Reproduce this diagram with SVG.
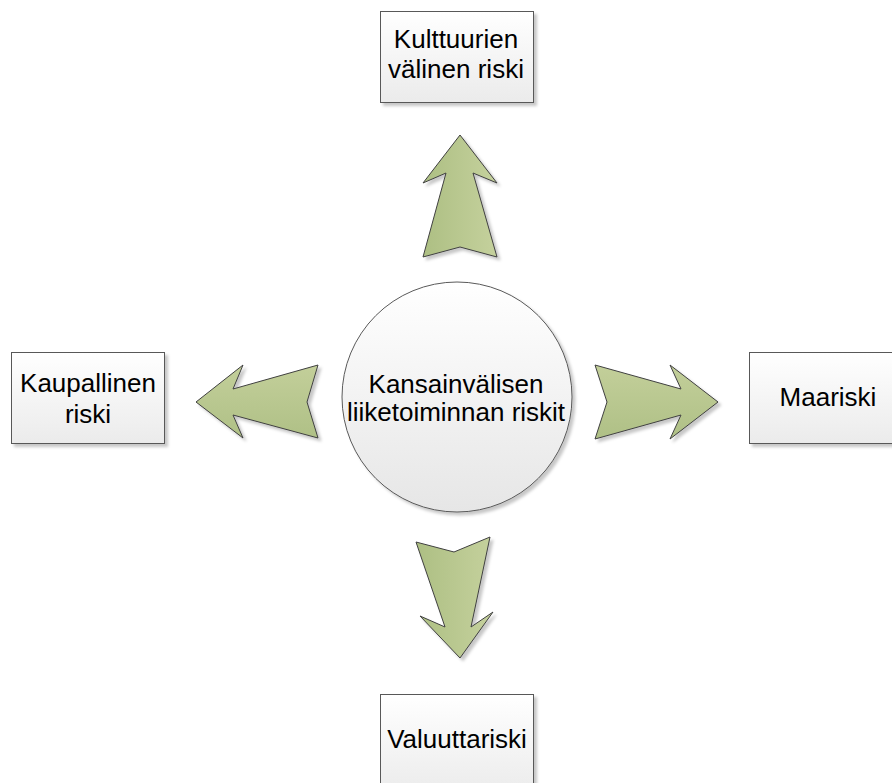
<svg xmlns="http://www.w3.org/2000/svg" width="892" height="783" viewBox="0 0 892 783">
<defs>
<linearGradient id="boxg" x1="0" y1="0" x2="0" y2="1">
<stop offset="0" stop-color="#ffffff"/>
<stop offset="1" stop-color="#ebebeb"/>
</linearGradient>
<linearGradient id="circg" x1="0" y1="0" x2="0" y2="1">
<stop offset="0" stop-color="#ffffff"/>
<stop offset="1" stop-color="#e6e6e6"/>
</linearGradient>
<linearGradient id="gv" x1="0" y1="0" x2="1" y2="0">
<stop offset="0" stop-color="#adbf83"/>
<stop offset="1" stop-color="#c5d19d"/>
</linearGradient>
<linearGradient id="gh" x1="0" y1="0" x2="0" y2="1">
<stop offset="0" stop-color="#c3cf9a"/>
<stop offset="1" stop-color="#afc086"/>
</linearGradient>
<filter id="sh" x="-20%" y="-20%" width="140%" height="140%">
<feDropShadow dx="3" dy="3" stdDeviation="1.5" flood-color="#000000" flood-opacity="0.22"/>
</filter>
</defs>
<style>
.box{fill:url(#boxg);stroke:#595959;stroke-width:1;filter:url(#sh)}
.circ{fill:url(#circg);stroke:#595959;stroke-width:1;filter:url(#sh)}
.arr{stroke:#404040;stroke-width:1;stroke-linejoin:miter;filter:url(#sh)}
text{font-family:"Liberation Sans",Arial,sans-serif;font-size:26px;fill:#000;text-anchor:middle}
</style>
<g id="connectors">
<polygon class="arr" fill="url(#gv)" points="460,135 497,183 473,173 497,257 460,247 423,257 446,173 423,183"/>
<polygon class="arr" fill="url(#gh)" points="718,402 670,365 681,389 595,365 607,402 595,439 681,415 670,439"/>
<polygon class="arr" fill="url(#gh)" points="196,402 243,365 233,389 318,365 307,402 318,438 233,415 243,438"/>
<polygon class="arr" fill="url(#gv)" points="416,542 454,552 490,537 471,627 493,612 460,658 420,616 445,627"/>
</g>
<g id="center">
<circle class="circ" cx="457" cy="397" r="115"/>
<text x="456" y="393">Kansainvälisen</text>
<text x="456" y="421">liiketoiminnan riskit</text>
</g>
<g id="top">
<rect class="box" x="380.5" y="11.5" width="153" height="91"/>
<text x="456" y="48">Kulttuurien</text>
<text x="456" y="78">välinen riski</text>
</g>
<g id="left">
<rect class="box" x="11.5" y="352.5" width="153" height="91"/>
<text x="88" y="392">Kaupallinen</text>
<text x="88" y="423">riski</text>
</g>
<g id="right">
<rect class="box" x="749.5" y="352.5" width="153" height="91"/>
<text x="828" y="406">Maariski</text>
</g>
<g id="bottom">
<rect class="box" x="380.5" y="694.5" width="153" height="100"/>
<text x="457" y="748">Valuuttariski</text>
</g>
</svg>
